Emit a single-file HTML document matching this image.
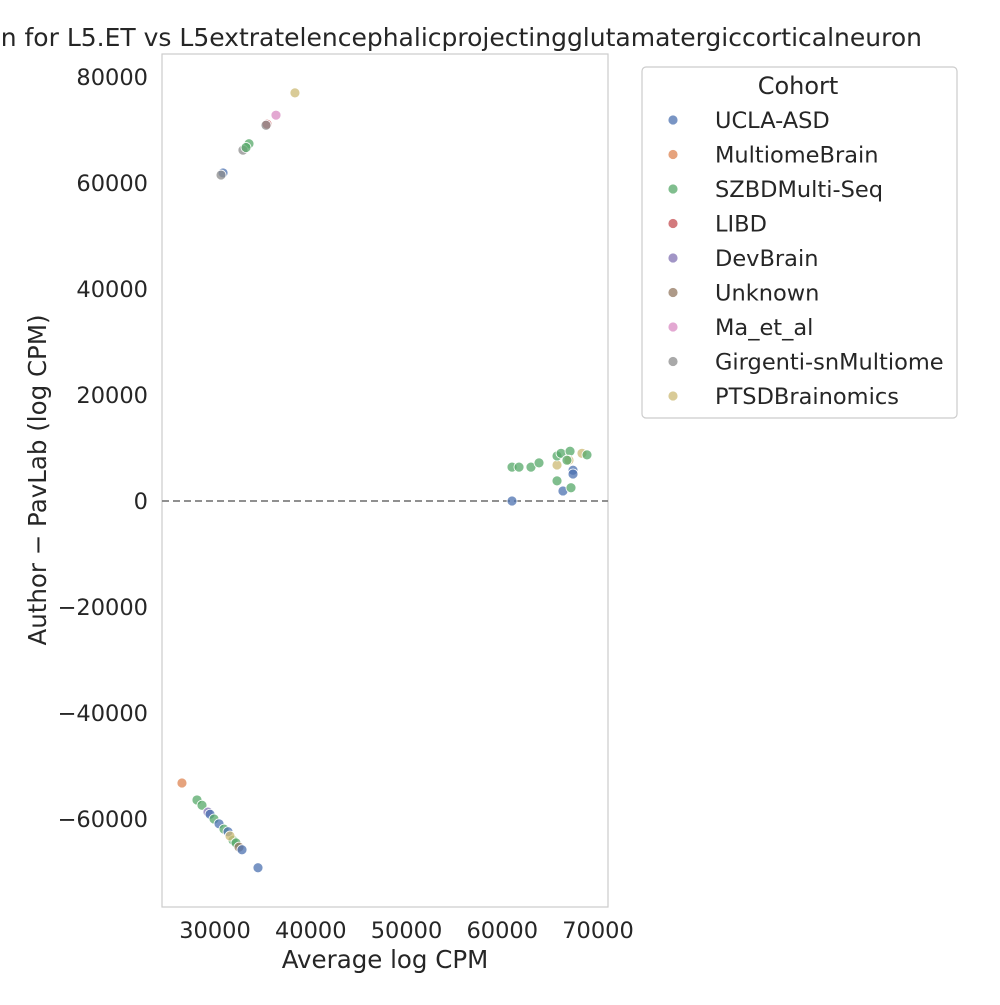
<!DOCTYPE html>
<html><head><meta charset="utf-8"><style>
body{margin:0;background:#fff}
svg text{font-family:"DejaVu Sans","Liberation Sans",sans-serif;fill:#262626}
</style></head><body>
<svg id="chart" width="1000" height="1000" viewBox="0 0 1000 1000" xmlns="http://www.w3.org/2000/svg">
<rect width="1000" height="1000" fill="#fff"/>
<text x="922" y="46" font-size="25" text-anchor="end">n for L5.ET vs L5extratelencephalicprojectingglutamatergiccorticalneuron</text>
<rect x="162" y="54" width="446" height="853" fill="none" stroke="#cccccc" stroke-width="1.2"/>
<g id="xticks"></g><g id="yticks"></g>
<line id="zero-line" stroke="#808080" stroke-width="1.8" stroke-dasharray="7,4"/>
<g id="points"></g>
<text x="385" y="968" font-size="24.5" text-anchor="middle">Average log CPM</text>
<text transform="translate(46,480) rotate(-90)" font-size="24.5" text-anchor="middle">Author − PavLab (log CPM)</text>
<g>
<rect x="642" y="67" width="315" height="351" rx="4" fill="#fff" stroke="#cccccc" stroke-width="1.2"/>
<text x="798" y="94" font-size="24" text-anchor="middle">Cohort</text>
<g id="legend-entries"></g>
</g>
</svg>
<script>
const cohorts=["UCLA-ASD","MultiomeBrain","SZBDMulti-Seq","LIBD","DevBrain","Unknown","Ma_et_al","Girgenti-snMultiome","PTSDBrainomics"];
const colors=["#4c72b0","#dd8452","#55a868","#c44e52","#8172b3","#937860","#da8bc3","#8c8c8c","#ccb974"];
const xTicks=[30000,40000,50000,60000,70000];
const yTicks=[80000,60000,40000,20000,0,-20000,-40000,-60000];
const ptX=[26550,28120,28640,29270,29480,29900,30420,30940,31360,31880,31570,32190,32510,32820,34490,
61020,61750,63000,63840,65720,65720,66140,67080,66970,66760,68330,68850,67390,67390,65720,66340,67180,61020,
38350,36370,35430,35330,33550,32920,33240,30840,30630];
const ptY=[-53200,-56400,-57400,-58700,-59100,-60000,-60900,-61900,-62400,-64000,-63200,-64500,-65300,-65800,-69200,
6400,6400,6400,7200,6800,8500,9000,9400,7700,7700,9000,8700,5800,5100,3800,1900,2500,0,
77000,72800,71100,70900,67400,66200,66700,61900,61500];
const ptC=[1,2,2,4,0,2,0,2,0,2,8,2,5,0,0,
2,2,2,2,8,2,2,2,8,2,8,2,0,0,2,0,2,0,
8,6,3,7,2,7,2,0,7];
const x0=24465,x1=71044,y0=84340,y1=-76600;
const sx=v=>162+(v-x0)/(x1-x0)*446;
const sy=v=>54+(y0-v)/(y0-y1)*853;
const NS="http://www.w3.org/2000/svg";
function mk(tag,attrs,parent){const e=document.createElementNS(NS,tag);for(const k in attrs)e.setAttribute(k,attrs[k]);parent.appendChild(e);return e;}
const xg=document.getElementById('xticks');
xTicks.forEach(t=>{const e=mk('text',{x:sx(t),y:938,'font-size':22.5,'text-anchor':'middle'},xg);e.textContent=t;

});
const yg=document.getElementById('yticks');
yTicks.forEach(t=>{const e=mk('text',{x:148,y:sy(t)+8,'font-size':22.5,'text-anchor':'end'},yg);e.textContent=t<0?'−'+Math.abs(t):t;

});
const zl=document.getElementById('zero-line');
zl.setAttribute('x1',162);zl.setAttribute('x2',608);zl.setAttribute('y1',sy(0));zl.setAttribute('y2',sy(0));
const pg=document.getElementById('points');
ptX.forEach((v,i)=>{const c=mk('circle',{cx:sx(v),cy:sy(ptY[i]),r:5,fill:colors[ptC[i]],'fill-opacity':0.75,stroke:'#fff','stroke-width':0.8},pg);

});
const lg=document.getElementById('legend-entries');
cohorts.forEach((n,i)=>{const y=120+i*34.5;
const c=mk('circle',{cx:673,cy:y,r:5,fill:colors[i],'fill-opacity':0.75,stroke:'#fff','stroke-width':0.8},lg);


const t=mk('text',{x:715,y:y+8,'font-size':22.5},lg);t.textContent=n;

});
</script>
</body></html>
